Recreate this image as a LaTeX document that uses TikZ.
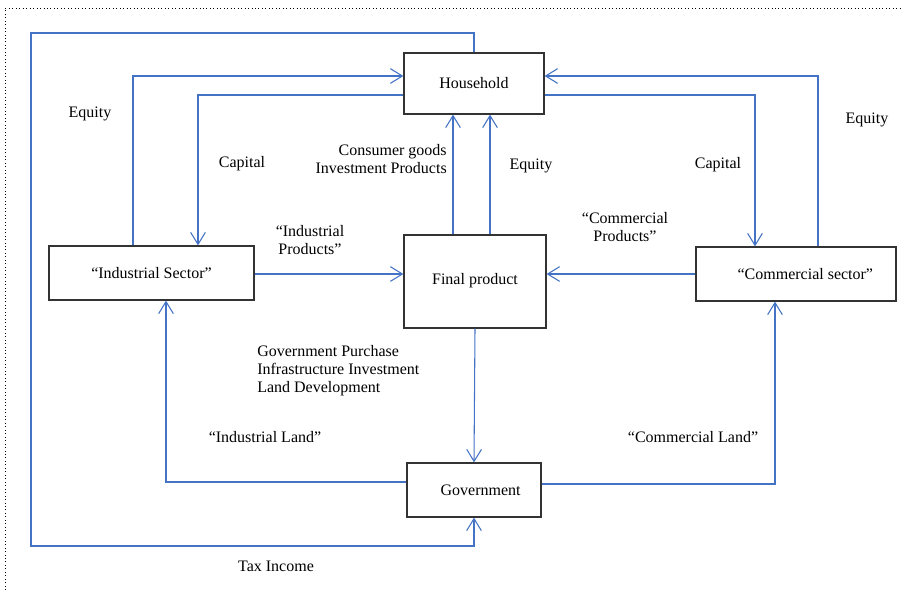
\documentclass[tikz,border=0pt]{standalone}
\usepackage{fontspec}
\setmainfont{Liberation Serif}
\usetikzlibrary{arrows.meta}
\definecolor{flowblue}{RGB}{68,114,196}
\begin{document}
\begin{tikzpicture}[x=0.75pt,y=-0.75pt,
  box/.style={draw=black!80, line width=0.9pt, inner sep=0pt, font=\fontsize{12}{13.5}\selectfont},
  flow/.style={draw=flowblue, line width=0.8pt, -{Straight Barb[length=9pt,width=11pt]}},
  lbl/.style={inner sep=0pt, font=\fontsize{12}{13.5}\selectfont, align=center},
  frame/.style={draw=black, dotted, line width=0.6pt}]
\useasboundingbox (0,0) rectangle (903,590);
\draw[frame] (5,590) -- (5,8) -- (902,8);

\node[box, minimum width=105pt, minimum height=45.75pt] (hh) at (474,83.5) {\raisebox{1.5pt}{Household}};
\node[box, minimum width=153.75pt, minimum height=40.5pt] (ind) at (151.5,273) {“Industrial Sector”};
\node[box, minimum width=106.5pt, minimum height=69.75pt] (fin) at (475,281.5) {\raisebox{4pt}{Final product}};
\node[box, minimum width=150pt, minimum height=40.5pt] (com) at (796,274) {\hspace*{14pt}“Commercial sector”};
\node[box, minimum width=100.5pt, minimum height=40.5pt] (gov) at (474,490) {\hspace*{10pt}Government};

\coordinate (tx1) at (474,33);
\coordinate (tx2) at (31,33);
\coordinate (tx3) at (31,546);
\coordinate (tx4) at (474,546);
\draw[flow] (hh.north) -- (tx1) -- (tx2) -- (tx3) -- (tx4) -- (gov.south);

\coordinate (el) at (133,76);
\draw[flow] (ind.north -| el) -- (el) -- (el -| hh.west);
\coordinate (cl) at (198,95);
\draw[flow] (cl -| hh.west) -- (cl) -- (cl |- ind.north);
\coordinate (ip) at (0,274);
\draw[flow] (ip -| ind.east) -- (ip -| fin.west);
\coordinate (cg) at (453,0);
\draw[flow] (cg |- fin.north) -- (cg |- hh.south);
\coordinate (em) at (490,0);
\draw[flow] (em |- fin.north) -- (em |- hh.south);
\coordinate (er) at (818,76);
\draw[flow] (er |- com.north) -- (er) -- (er -| hh.east);
\coordinate (cr) at (755,95);
\draw[flow] (cr -| hh.east) -- (cr) -- (cr |- com.north);
\draw[flow] (ip -| com.west) -- (ip -| fin.east);
\draw[flow] (fin.south) -- (gov.north);
\coordinate (il) at (166,482);
\draw[flow] (il -| gov.west) -- (il) -- (il |- ind.south);
\coordinate (cml) at (775,484);
\draw[flow] (cml -| gov.east) -- (cml) -- (cml |- com.south);

\node[lbl] (l1) at (90,114) {Equity};
\node[lbl] (l2) at (242,164) {Capital};
\node[lbl, anchor=east, align=right] (l3) at (447,159) {Consumer goods\\Investment Products};
\node[lbl] (l4) at (531,166) {Equity};
\node[lbl] (l5) at (310,240) {“Industrial\\Products”};
\node[lbl] (l6) at (625,227) {“Commercial\\Products”};
\node[lbl] (l7) at (718,165) {Capital};
\node[lbl] (l8) at (867,120) {Equity};
\node[lbl, anchor=west, align=left] (l9) at (257,371) {Government Purchase\\Infrastructure Investment\\Land Development};
\node[lbl] (l10) at (265,437) {“Industrial Land”};
\node[lbl] (l11) at (693,437) {“Commercial Land”};
\node[lbl] (l12) at (276,566) {Tax Income};
\end{tikzpicture}
\end{document}
